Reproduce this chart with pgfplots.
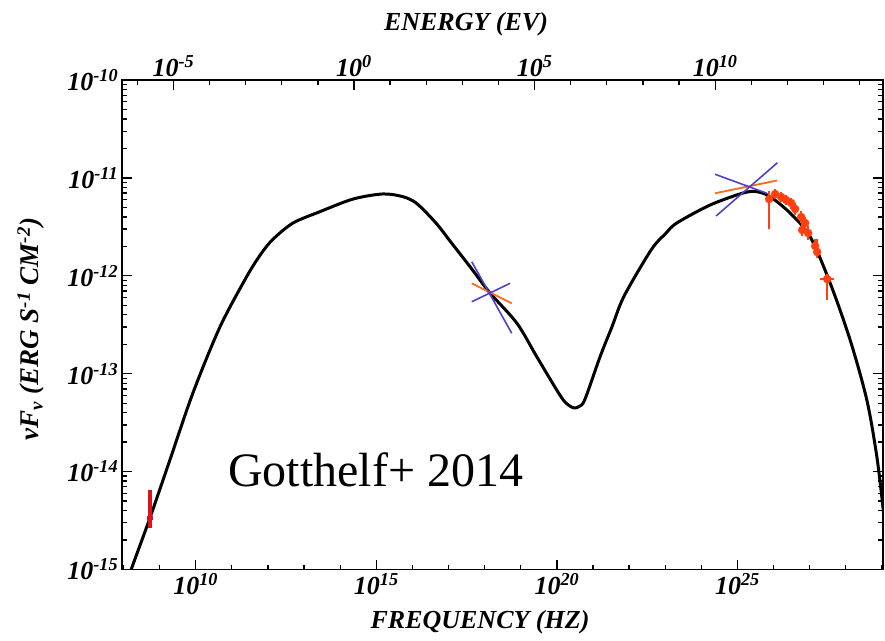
\documentclass[border=0pt]{standalone}
\usepackage{pgfplots}
\pgfplotsset{compat=1.18}
\usepackage{fontspec}
\setmainfont{Liberation Serif}
\definecolor{tevred}{HTML}{FF4010}
\definecolor{radred}{HTML}{E0101E}
\definecolor{bowblue}{HTML}{5040D0}
\definecolor{boworange}{HTML}{FF6A1A}
\newcommand{\lf}{\fontsize{26}{30}\selectfont\bfseries\itshape}
\begin{document}
\begin{tikzpicture}
\useasboundingbox (0,0) rectangle (885pt,640pt);
\begin{axis}[
  at={(121.7pt,70.5pt)}, anchor=south west,
  scale only axis, width=761.6pt, height=489.5pt,
  xmin=7.95, xmax=29.04, ymin=-15, ymax=-10,
  xtick={10,15,20,25},
  xticklabels={10\textsuperscript{10},10\textsuperscript{15},10\textsuperscript{20},10\textsuperscript{25}},
  minor xtick={8,...,29},
  ytick={-15,-14,-13,-12,-11,-10},
  yticklabels={10\textsuperscript{-15},10\textsuperscript{-14},10\textsuperscript{-13},10\textsuperscript{-12},10\textsuperscript{-11},10\textsuperscript{-10}},
  minor ytick={-14.699,-14.523,-14.398,-14.301,-14.222,-14.155,-14.097,-14.046,
               -13.699,-13.523,-13.398,-13.301,-13.222,-13.155,-13.097,-13.046,
               -12.699,-12.523,-12.398,-12.301,-12.222,-12.155,-12.097,-12.046,
               -11.699,-11.523,-11.398,-11.301,-11.222,-11.155,-11.097,-11.046,
               -10.699,-10.523,-10.398,-10.301,-10.222,-10.155,-10.097,-10.046},
  xtick pos=left, ytick pos=both, yticklabel pos=left,
  tick align=inside,
  major tick length=10pt, minor tick length=5pt,
  every tick/.style={black, line width=1.3pt},
  axis line style={line width=1.8pt},
  ticklabel style={font=\lf},
]
% model curve
\addplot[black, line width=3pt, smooth, tension=0.5] table {
x y
8.039 -15.189
8.224 -14.988
8.731 -14.474
9.285 -13.881
9.922 -13.197
10.670 -12.523
11.410 -12.009
11.800 -11.780
12.130 -11.630
12.693 -11.461
13.440 -11.345
14.355 -11.216
15.186 -11.164
15.740 -11.192
16.080 -11.250
16.396 -11.359
16.720 -11.490
17.042 -11.645
17.596 -11.907
18.150 -12.176
18.889 -12.482
19.443 -12.826
19.997 -13.167
20.218 -13.287
20.385 -13.336
20.496 -13.350
20.607 -13.336
20.773 -13.266
21.197 -12.826
21.527 -12.520
21.862 -12.207
22.610 -11.736
23.002 -11.572
23.321 -11.461
24.244 -11.277
25.158 -11.154
25.537 -11.141
25.906 -11.192
26.460 -11.359
27.014 -11.601
27.568 -12.074
28.122 -12.656
28.584 -13.269
28.861 -13.848
29.044 -14.413
29.230 -15.107
};
% X-ray bowtie
\addplot[boworange, line width=1.8pt] coordinates {(17.643,-12.077) (18.751,-12.281)};
\addplot[bowblue, line width=1.6pt] coordinates {(17.643,-11.856) (18.751,-12.587)};
\addplot[bowblue, line width=1.6pt] coordinates {(17.643,-12.265) (18.704,-12.077)};
% gamma-ray bowtie
\addplot[boworange, line width=1.8pt] coordinates {(24.382,-11.157) (26.092,-11.027)};
\addplot[bowblue, line width=1.6pt] coordinates {(24.382,-10.963) (25.814,-11.157)};
\addplot[bowblue, line width=1.6pt] coordinates {(24.410,-11.389) (26.108,-10.845)};
% radio point
\addplot[only marks, mark=*, mark size=1.8pt, color=radred,
  error bars/.cd, x dir=both, x explicit, y dir=both, y explicit,
  error mark=none, error bar style={line width=3.5pt, color=radred}]
  table[x=x, y=y, x error=ex, y error plus=ep, y error minus=em] {
x y ex ep em
8.731 -14.474 0.08 0.286 0.10
};
% TeV points
\addplot[only marks, mark=*, mark size=4pt, color=tevred,
  error bars/.cd, x dir=both, x explicit, y dir=both, y explicit,
  error mark=none, error bar style={line width=2.5pt, color=tevred}]
  table[x=x, y=y, x error=ex, y error plus=ep, y error minus=em] {
x y ex ep em
25.878 -11.216 0.06 0.08 0.306
26.044 -11.165 0.09 0.05 0.05
26.211 -11.195 0.09 0.05 0.05
26.349 -11.226 0.09 0.05 0.05
26.488 -11.256 0.09 0.05 0.06
26.598 -11.318 0.07 0.06 0.06
26.765 -11.399 0.07 0.06 0.06
26.876 -11.461 0.07 0.06 0.07
26.792 -11.532 0.07 0.06 0.06
26.958 -11.563 0.07 0.07 0.07
27.152 -11.696 0.07 0.07 0.07
27.208 -11.757 0.07 0.13 0.06
27.485 -12.033 0.20 0.05 0.21
};
\end{axis}
\begin{axis}[
  at={(121.7pt,70.5pt)}, anchor=south west,
  scale only axis, width=761.6pt, height=489.5pt,
  xmin=-6.4335, xmax=14.6565, ymin=0, ymax=1,
  xtick={-5,0,5,10},
  xticklabels={10\textsuperscript{-5},10\textsuperscript{0},10\textsuperscript{5},10\textsuperscript{10}},
  minor xtick={-6,...,14},
  xtick pos=right, xticklabel pos=right, ytick=\empty,
  tick align=inside,
  major tick length=10pt, minor tick length=5pt,
  every tick/.style={black, line width=1.3pt},
  axis line style={draw=none},
  ticklabel style={font=\lf},
]
\end{axis}
\node[font=\lf] at (466pt,616pt) {ENERGY (EV)};
\node[font=\lf] at (480pt,18pt) {FREQUENCY (HZ)};
\node[font=\fontsize{27}{30}\selectfont\bfseries\itshape, rotate=90] at (31pt,311pt) {νF\textsubscript{ν} (ERG S\textsuperscript{-1} CM\textsuperscript{-2})};
\node[font=\fontsize{48}{52}\selectfont, anchor=base west, inner sep=0pt] at (228pt,154pt) {Gotthelf+ 2014};
\end{tikzpicture}
\end{document}
